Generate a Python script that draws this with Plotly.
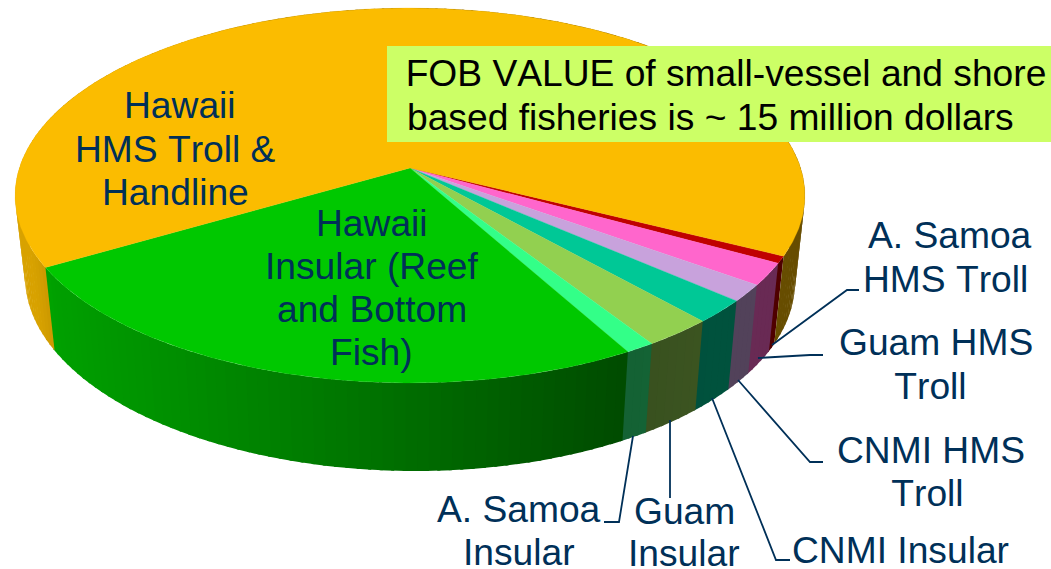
import numpy as np
import plotly.graph_objects as go

# ---- data: share of FOB value (percent), clockwise from the A. Samoa HMS Troll slice
categories = ["A. Samoa HMS Troll", "Guam HMS Troll", "CNMI HMS Troll", "CNMI Insular",
              "Guam Insular", "A. Samoa Insular", "Hawaii Insular (Reef and Bottom Fish)",
              "Hawaii HMS Troll & Handline"]
shares = [0.6, 1.9, 1.45, 2.0, 2.5, 1.05, 24.7, 65.8]
colors = ["#C00000", "#FF66CC", "#C8A2DC", "#00C896", "#92D050", "#33FF88", "#00C800", "#FBBC00"]

label_lines = [
    ("Hawaii", 180, 118), ("HMS Troll &", 175, 162), ("Handline", 175, 205),
    ("Hawaii", 372, 236), ("Insular (Reef", 372, 279), ("and Bottom", 372, 322), ("Fish)", 371, 365),
    ("A. Samoa", 950, 248), ("HMS Troll", 945, 292),
    ("Guam HMS", 936, 355), ("Troll", 930, 399),
    ("CNMI HMS", 931, 463), ("Troll", 927, 506),
    ("CNMI Insular", 900, 563),
    ("Guam", 684, 524), ("Insular", 684, 566),
    ("A. Samoa", 519, 522), ("Insular", 519, 565),
]
note_lines = [("FOB VALUE of small-vessel and shore", 407, 85),
              ("based fisheries is ~ 15 million dollars", 407, 129)]
leaders = [
    [(859, 290), (847, 290), (772, 345)],
    [(823, 355), (810, 355), (758, 358)],
    [(823, 462), (810, 462), (738, 380)],
    [(790, 560), (776, 560), (712, 398)],
    [(670, 498), (670, 420)],
    [(604, 522), (619, 522), (633, 436)],
]

# ---- projection of the tilted disc
CX, CY = 410.0, 168.0
A, B, K = 390.6, 183.4, 0.1467
START = 26.7
NAVY = "#003058"
TEXT_PX = 37.2


def top_xy(deg):
    t = np.radians(deg)
    u, v = np.cos(t), np.sin(t)
    w = 1 - K * v
    return CX + A * u / w, CY + B * v / w


def bottom_xy(deg):
    x, y = top_xy(deg)
    depth = 85.3 + 0.0068 * (x - CX) + 0.0224 * (y - 260)
    return CX + 0.975 * (x - CX), y + depth


def shade(x):
    return np.interp(x, [30, 50, 400, 620, 720], [0.86, 0.80, 0.55, 0.38, 0.41])


def scaled(hex_color, f):
    r, g, b = (int(hex_color[i:i + 2], 16) for i in (1, 3, 5))
    return f"rgb({r * f:.0f},{g * f:.0f},{b * f:.0f})"


fig = go.Figure()
edges = START + np.concatenate([[0], np.cumsum(shares)]) * 3.6
last = len(colors) - 1

# side walls: each band overlaps the next a little so no seams show
for i, color in enumerate(colors):
    a0, a1 = edges[i], edges[i + 1]
    n = max(2, int(np.ceil((a1 - a0) / 1.5)))
    steps = np.linspace(a0, a1, n + 1)
    for s0, s1 in zip(steps[:-1], steps[1:]):
        s1e = s1 + 0.4 if i != last else min(s1 + 0.4, a1)
        x0, y0 = top_xy(s0)
        x1, y1 = top_xy(s1e)
        x2, y2 = bottom_xy(s1e)
        x3, y3 = bottom_xy(s0)
        f = scaled(color, shade((x0 + x1) / 2))
        fig.add_trace(go.Scatter(x=[x0, x1, x2, x3, x0], y=[y0, y1, y2, y3, y0], mode="none",
                                 fill="toself", fillcolor=f,
                                 hoverinfo="skip", showlegend=False))

# top faces
for i, (name, color) in enumerate(zip(categories, colors)):
    arc = np.linspace(edges[i], edges[i + 1], max(3, int((edges[i + 1] - edges[i]) * 2)))
    x, y = top_xy(arc)
    fig.add_trace(go.Scatter(x=np.r_[CX, x, CX], y=np.r_[CY, y, CY], mode="lines", name=name,
                             fill="toself", fillcolor=color, line=dict(color=color, width=0.3),
                             showlegend=False))

shapes = [dict(type="rect", xref="x", yref="y", x0=387, x1=1051, y0=46, y1=142,
               fillcolor="#CCFF66", line_width=0, layer="above")]
for pts in leaders:
    path = "M" + " L".join(f"{px},{py}" for px, py in pts)
    shapes.append(dict(type="path", xref="x", yref="y", path=path,
                       line=dict(color=NAVY, width=1.8), layer="above"))

annotations = []
for text, x, base in label_lines:
    annotations.append(dict(x=x, y=base - 13, xref="x", yref="y", text=text, showarrow=False,
                            xanchor="center", yanchor="middle", borderpad=0, borderwidth=0,
                            font=dict(family="Liberation Sans", size=TEXT_PX, color=NAVY)))
for text, x, base in note_lines:
    annotations.append(dict(x=x, y=base - 12, xref="x", yref="y", text=text, showarrow=False,
                            xanchor="left", yanchor="middle", borderpad=0, borderwidth=0,
                            font=dict(family="Liberation Sans", size=TEXT_PX, color="#000000")))

fig.update_layout(
    width=1051, height=569, margin=dict(l=0, r=0, t=0, b=0),
    paper_bgcolor="white", plot_bgcolor="white", showlegend=False,
    xaxis=dict(range=[0, 1051], visible=False, fixedrange=True),
    yaxis=dict(range=[569, 0], visible=False, fixedrange=True),
    shapes=shapes, annotations=annotations,
)
fig.write_html("out.html", config=dict(displayModeBar=False),
               post_script="document.body.style.margin='0';document.body.style.overflow='hidden';"
                           "var s=document.createElement('style');"
                           "s.textContent='.annotation-text{font-kerning:none}';"
                           "document.head.appendChild(s);")
